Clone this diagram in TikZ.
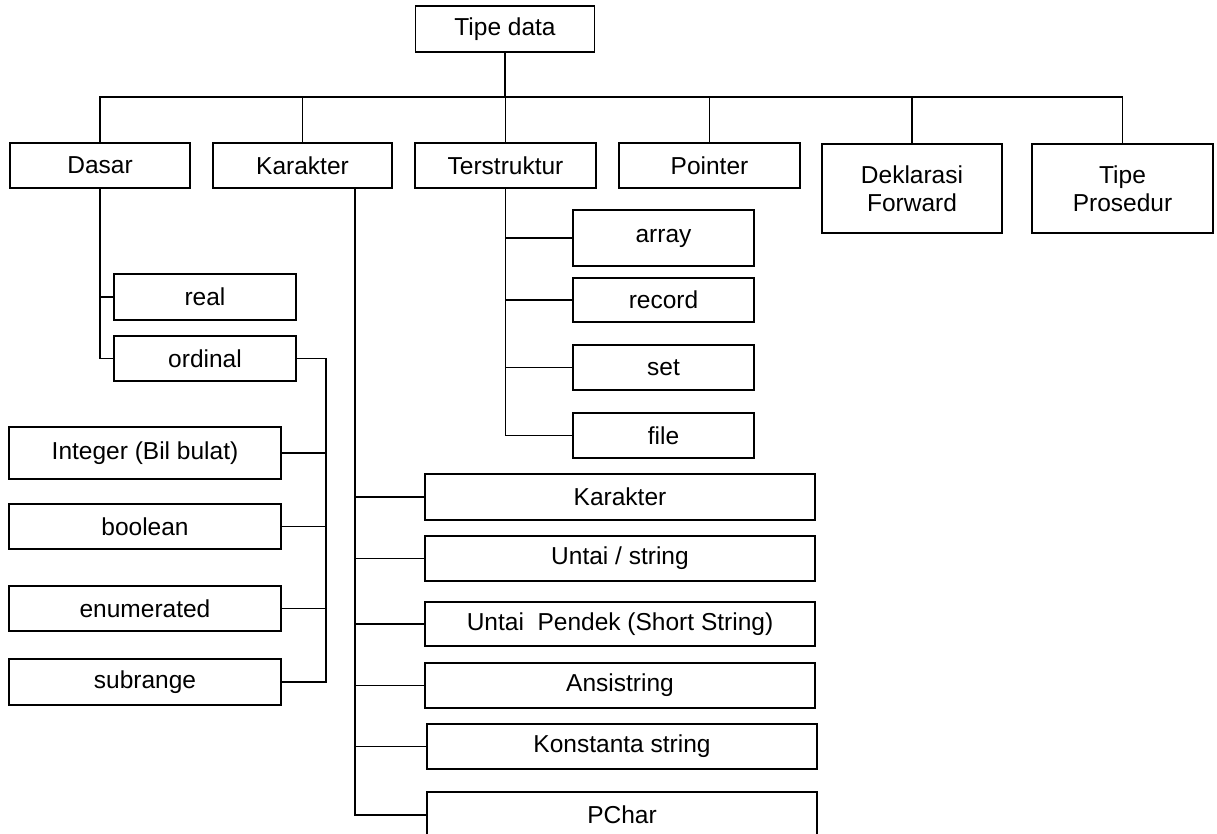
\documentclass[tikz,border=0pt]{standalone}
\usepackage{fontspec}
\setmainfont{Liberation Sans}
\usepackage{tikz}

\tikzset{
  box/.style={draw, line width=1.3pt, inner sep=0pt, outer sep=0pt,
    align=center, font=\fontsize{24.5}{28}\selectfont},
  link/.style={line width=1.4pt}
}

\begin{document}
\begin{tikzpicture}[x=1pt, y=-1pt]
  \useasboundingbox (0,0) rectangle (1217,833);
  \clip (0,0) rectangle (1217,833);

  % root and first level
  \node[box, minimum width=179pt, minimum height=46pt] (tipe) at (505,29) {Tipe data};

  \node[box, minimum width=180pt, minimum height=45pt] (dasar) at (100,165.5) {Dasar};
  \node[box, minimum width=179pt, minimum height=45pt] (karakter) at (302.5,165.5) {Karakter};
  \node[box, minimum width=181pt, minimum height=45pt] (terstruktur) at (505.5,165.5) {Terstruktur};
  \node[box, minimum width=181pt, minimum height=45pt] (pointer) at (709.5,165.5) {Pointer};
  \node[box, minimum width=180pt, minimum height=89pt] (deklarasi) at (912,188.5) {Deklarasi\\Forward};
  \node[box, minimum width=181pt, minimum height=89pt] (prosedur) at (1122.5,188.5) {Tipe\\Prosedur};

  \coordinate (bus) at (505,97);
  \draw[link] (tipe.south) -- (tipe.south |- bus);
  \draw[link] (dasar.north) |- (bus -| prosedur.north) -- (prosedur.north);
  \draw[link] (karakter.north) -- (karakter.north |- bus);
  \draw[link] (terstruktur.north) -- (terstruktur.north |- bus);
  \draw[link] (pointer.north) -- (pointer.north |- bus);
  \draw[link] (deklarasi.north) -- (deklarasi.north |- bus);

  % Dasar
  \node[box, minimum width=182pt, minimum height=46pt] (real) at (205,297) {real};
  \node[box, minimum width=182pt, minimum height=45pt] (ordinal) at (205,358.5) {ordinal};
  \draw[link] (dasar.south) |- (real.west);
  \draw[link] (dasar.south) |- (ordinal.west);

  \node[box, minimum width=272pt, minimum height=52pt] (integer) at (145,453) {Integer (Bil bulat)};
  \node[box, minimum width=272pt, minimum height=45pt] (boolean) at (145,526.5) {boolean};
  \node[box, minimum width=272pt, minimum height=45pt] (enumerated) at (145,608.5) {enumerated};
  \node[box, minimum width=272pt, minimum height=46pt] (subrange) at (145,682) {subrange};

  \coordinate (obus) at (326,358.5);
  \draw[link] (ordinal.east) -- (obus) |- (subrange.east);
  \draw[link] (integer.east) -- (integer.east -| obus);
  \draw[link] (boolean.east) -- (boolean.east -| obus);
  \draw[link] (enumerated.east) -- (enumerated.east -| obus);

  % Terstruktur
  \node[box, minimum width=181pt, minimum height=56pt] (array) at (663.5,238) {array};
  \node[box, minimum width=181pt, minimum height=44pt] (record) at (663.5,300) {record};
  \node[box, minimum width=181pt, minimum height=45pt] (set) at (663.5,367.5) {set};
  \node[box, minimum width=181pt, minimum height=45pt] (file) at (663.5,435.5) {file};

  \draw[link] (terstruktur.south) |- (file.west);
  \draw[link] (terstruktur.south |- array.west) -- (array.west);
  \draw[link] (terstruktur.south |- record.west) -- (record.west);
  \draw[link] (terstruktur.south |- set.west) -- (set.west);

  % Karakter
  \node[box, minimum width=390pt, minimum height=46pt] (kar) at (620,497) {Karakter};
  \node[box, minimum width=390pt, minimum height=45pt] (untai) at (620,558.5) {Untai / string};
  \node[box, minimum width=390pt, minimum height=44pt] (pendek) at (620,624) {Untai\ \ Pendek (Short String)};
  \node[box, minimum width=390pt, minimum height=45pt] (ansi) at (620,685.5) {Ansistring};
  \node[box, minimum width=390pt, minimum height=45pt] (konstanta) at (622,746.5) {Konstanta string};
  \node[box, minimum width=390pt, minimum height=46pt] (pchar) at (622,815) {PChar};

  \path (karakter.south) ++(52.5,0) coordinate (kbus);
  \draw[link] (kbus) |- (pchar.west);
  \draw[link] (kbus |- kar.west) -- (kar.west);
  \draw[link] (kbus |- untai.west) -- (untai.west);
  \draw[link] (kbus |- pendek.west) -- (pendek.west);
  \draw[link] (kbus |- ansi.west) -- (ansi.west);
  \draw[link] (kbus |- konstanta.west) -- (konstanta.west);
\end{tikzpicture}
\end{document}
